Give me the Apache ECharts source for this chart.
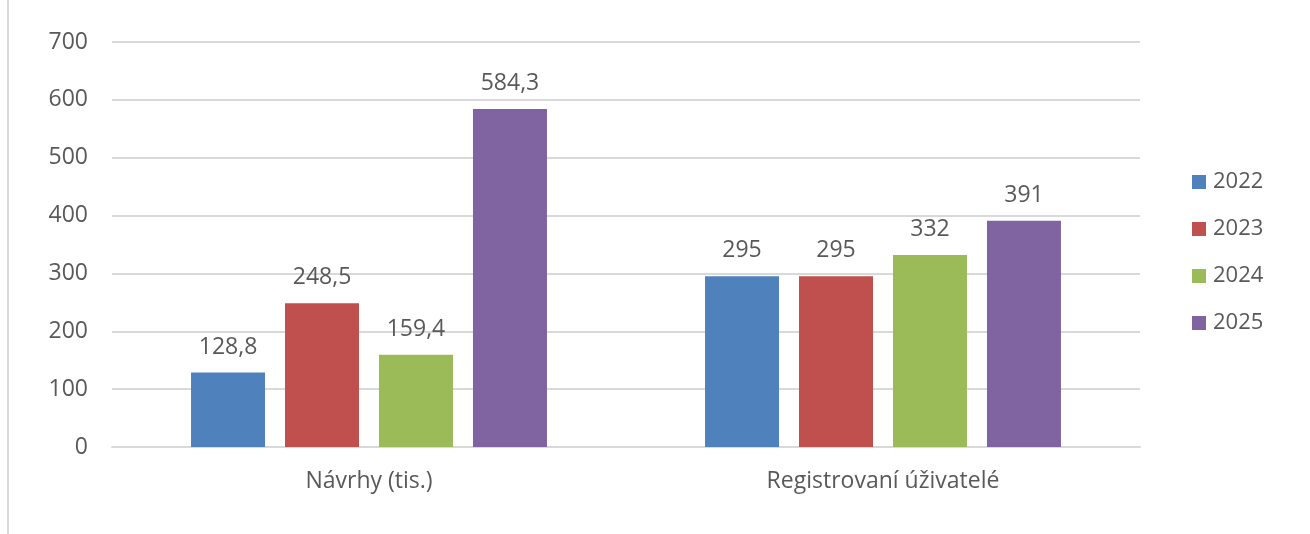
<!DOCTYPE html>
<html>
<head>
<meta charset="utf-8">
<script src="https://cdn.jsdelivr.net/npm/echarts@6/dist/echarts.min.js"></script>
<style>
  html, body { margin: 0; padding: 0; background: #fff; }
  #chart { width: 1310px; height: 534px; }
</style>
</head>
<body>
<div id="chart"></div>
<script>
// categories and values
const categories = ['Návrhy (tis.)', 'Registrovaní úživatelé'];
const years = ['2022', '2023', '2024', '2025'];
const v2022 = [128.8, 295];
const v2023 = [248.5, 295];
const v2024 = [159.4, 332];
const v2025 = [584.3, 391];
const yTicks = [0, 100, 200, 300, 400, 500, 600, 700];

const colors = ['#4F81BD', '#C0504D', '#9BBB59', '#8064A2'];
const font = '"Open Sans", "Noto Sans", sans-serif';
const textColor = '#595959';

function fmt(v) {
  return String(v).replace('.', ',');
}

const seriesData = [v2022, v2023, v2024, v2025];

const myChart = echarts.init(document.getElementById('chart'));
const option = {
  animation: false,
  color: colors,
  textStyle: { fontFamily: font },
  grid: { left: 112, right: 170, top: 42, bottom: 87 },
  graphic: [{
    type: 'line',
    shape: { x1: 8, y1: 0, x2: 8, y2: 534 },
    style: { stroke: '#d9d9d9', lineWidth: 2 }
  }],
  legend: {
    orient: 'vertical',
    left: 1192,
    top: 171,
    padding: 0,
    itemWidth: 14,
    itemHeight: 14,
    itemGap: 25,
    icon: 'rect',
    data: years,
    textStyle: { fontFamily: font, fontSize: 22, color: textColor, padding: [0, 0, 0, 2] }
  },
  xAxis: {
    type: 'category',
    data: categories,
    axisTick: { show: false },
    axisLine: { lineStyle: { color: '#d9d9d9', width: 2 } },
    axisLabel: { fontFamily: font, fontSize: 23, color: textColor, margin: 23 }
  },
  yAxis: {
    type: 'value',
    min: yTicks[0],
    max: yTicks[yTicks.length - 1],
    interval: 100,
    axisLine: { show: false },
    axisTick: { show: false },
    splitLine: { lineStyle: { color: '#d9d9d9', width: 2 } },
    axisLabel: { fontFamily: font, fontSize: 23, color: textColor, margin: 24 }
  },
  series: years.map(function (y, i) {
    return {
      name: y,
      type: 'bar',
      data: seriesData[i],
      barWidth: 74,
      barGap: '27%',
      label: {
        show: true,
        position: 'top',
        distance: 14,
        fontFamily: font,
        fontSize: 23,
        color: textColor,
        formatter: function (p) { return fmt(p.value); }
      }
    };
  })
};
myChart.setOption(option);
</script>
</body>
</html>
